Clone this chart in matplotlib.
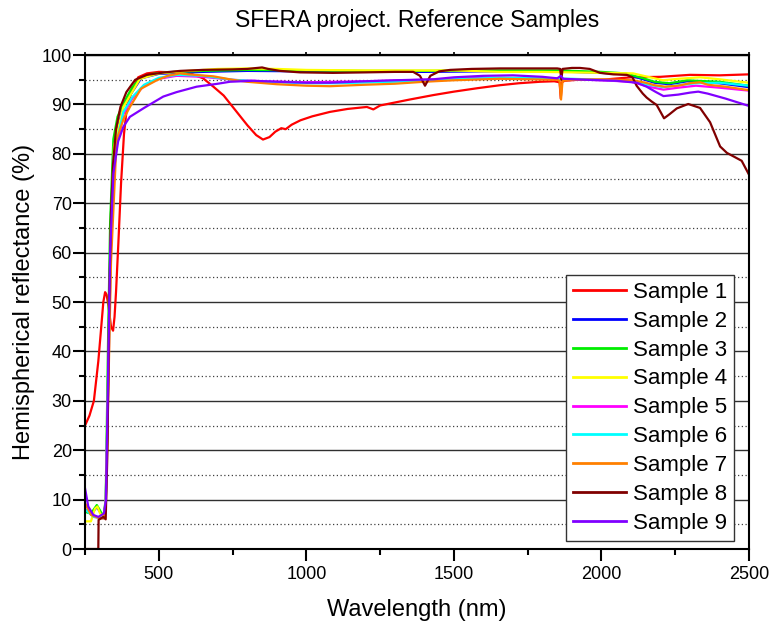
import matplotlib
matplotlib.use("Agg")
import matplotlib.pyplot as plt
from matplotlib.ticker import MultipleLocator

plt.rcParams['font.family'] = ['Liberation Sans', 'DejaVu Sans']

# Sample 1 (red)
wl_1 = [250, 265, 280, 295, 305, 312, 318, 323, 330, 338, 345, 350, 355, 363, 372, 382, 392, 410, 430, 460,
        500, 560, 610, 650, 685, 720, 760, 800, 830, 853, 875, 895, 915, 930, 950, 980, 1020, 1080, 1140, 1205,
        1227, 1250, 1300, 1350, 1430, 1500, 1580, 1656, 1720, 1792, 1840, 1858, 1862, 1866, 1875, 1920, 2000,
        2100, 2200, 2250, 2300, 2400, 2500]
r_1 = [25, 27, 30, 38, 45, 50, 52, 51.5, 49, 45, 44.2, 47, 52, 62, 74, 84, 89.5, 93, 95.5, 96.3,
       96.6, 96.5, 96.2, 95.3, 93.6, 91.8, 88.8, 85.8, 83.8, 82.9, 83.4, 84.5, 85.2, 85.0, 85.9, 86.8, 87.6, 88.5,
       89.1, 89.5, 89.0, 89.8, 90.4, 91.0, 91.9, 92.6, 93.3, 93.9, 94.3, 94.6, 94.7, 94.5, 91.2, 94.5, 94.8,
       95.0, 95.0, 95.5, 95.6, 95.8, 96.0, 95.9, 96.1]

# Sample 2 (blue)
wl_2 = [250, 270, 290, 301, 312, 320, 330, 337, 348, 380, 440, 500, 650, 800, 1000, 1200, 1400, 1600, 1800,
        1900, 2000, 2080, 2130, 2180, 2230, 2290, 2320, 2400, 2500]
r_2 = [8, 7, 8.5, 7.5, 6.5, 9, 40, 64, 82, 89.8, 95.3, 96.2, 96.6, 96.8, 96.7, 96.6, 96.6, 96.7, 96.7,
       96.6, 96.4, 96.1, 95.3, 94.4, 94.1, 94.7, 94.6, 94.3, 93.5]

# Sample 3 (green)
wl_3 = [250, 270, 290, 301, 312, 320, 328, 335, 346, 360, 380, 410, 436, 480, 550, 650, 800, 1000, 1200,
        1400, 1600, 1800, 1860, 1900, 2000, 2080, 2130, 2180, 2230, 2290, 2320, 2400, 2500]
r_3 = [7.5, 7.2, 8.9, 7.8, 6.5, 10, 42, 66, 83, 87.5, 90.2, 93.5, 95.2, 96.2, 96.6, 96.8, 97.0, 96.9, 96.8,
       96.8, 96.9, 96.9, 96.9, 96.8, 96.6, 96.3, 95.5, 94.6, 94.3, 94.9, 94.8, 94.6, 93.8]

# Sample 4 (yellow)
wl_4 = [250, 270, 284, 292, 301, 312, 320, 330, 337, 348, 380, 436, 500, 600, 700, 800, 900, 1000, 1200,
        1500, 1656, 1800, 1900, 2000, 2107, 2150, 2209, 2260, 2334, 2400, 2500]
r_4 = [5.6, 5.6, 8.2, 8.6, 7.2, 6.5, 9, 40, 63, 81.5, 89.5, 95.2, 96.3, 96.8, 97.2, 97.3, 97.2, 97.0, 96.9,
       96.9, 96.6, 96.6, 96.5, 96.4, 96.3, 95.7, 94.9, 95.2, 95.5, 95.1, 94.4]

# Sample 5 (magenta)
wl_5 = [250, 280, 312, 320, 330, 337, 348, 380, 410, 450, 500, 560, 650, 750, 850, 1000, 1200, 1400, 1600,
        1800, 1900, 2000, 2100, 2160, 2210, 2260, 2320, 2400, 2500]
r_5 = [9, 6.5, 6.2, 9, 37, 60, 79, 88, 91.2, 93.8, 95.2, 95.8, 95.6, 95.0, 94.7, 94.5, 94.7, 95.0, 95.4,
       95.3, 95.1, 94.9, 94.6, 93.6, 93.0, 93.4, 93.8, 93.4, 92.8]

# Sample 6 (cyan)
wl_6 = [250, 280, 312, 320, 330, 337, 348, 380, 410, 450, 500, 560, 650, 750, 850, 1000, 1100, 1300, 1500,
        1656, 1800, 1900, 2000, 2100, 2160, 2210, 2260, 2320, 2400, 2500]
r_6 = [8, 6.5, 6.2, 9, 38, 60, 80, 88.5, 91.5, 94.0, 95.4, 96.0, 95.8, 95.0, 94.6, 94.3, 94.3, 94.6, 95.1,
       95.4, 95.3, 95.2, 95.0, 94.8, 94.0, 93.5, 93.9, 94.3, 94.4, 93.8]

# Sample 7 (orange)
wl_7 = [250, 270, 301, 312, 320, 330, 338, 357, 380, 402, 440, 493, 530, 572, 600, 685, 750, 798, 900, 1000,
        1080, 1200, 1300, 1400, 1500, 1600, 1656, 1750, 1850, 1858, 1863, 1868, 1900, 2000, 2107, 2150, 2180,
        2215, 2260, 2300, 2334, 2360, 2420, 2500]
r_7 = [9.3, 6.9, 6.2, 6.2, 8, 35, 58, 82.8, 87, 89.5, 93.2, 94.9, 95.8, 96.3, 96.1, 95.7, 95.0, 94.6, 94.1, 93.8,
       93.7, 94.0, 94.2, 94.6, 94.9, 95.1, 95.2, 95.1, 95.0, 94.8, 91.0, 94.8, 95.0, 95.1, 94.9, 94.4, 93.9,
       93.6, 93.8, 94.3, 94.5, 94.0, 93.6, 92.9]

# Sample 8 (dark red)
wl_8 = [250, 295, 296, 312, 320, 326, 332, 338, 345, 355, 370, 390, 420, 460, 520, 572, 650, 750, 800, 850,
        870, 911, 979, 1090, 1200, 1300, 1362, 1385, 1402, 1420, 1450, 1487, 1560, 1656, 1750, 1850, 1860, 1864,
        1868, 1900, 1927, 1960, 1995, 2040, 2086, 2105, 2119, 2140, 2153, 2170, 2187, 2200, 2212, 2230, 2255,
        2294, 2334, 2368, 2402, 2425, 2447, 2475, 2498]
r_8 = [0, 0, 5.9, 6.5, 6, 20, 50, 68, 78, 85, 89.5, 92.5, 95, 96, 96.5, 96.8, 97, 97.1, 97.2, 97.5,
       97.2, 96.8, 96.5, 96.4, 96.5, 96.6, 96.6, 95.8, 93.8, 95.8, 96.7, 97.0, 97.2, 97.3, 97.3, 97.3, 97.2, 95.0,
       97.2, 97.4, 97.4, 97.2, 96.4, 96.1, 96.0, 95.5, 93.8, 92.2, 91.4, 90.6, 89.9, 88.5, 87.2, 88.0, 89.2,
       90.1, 89.3, 86.4, 81.5, 80.2, 79.5, 78.6, 76.0]

# Sample 9 (violet)
wl_9 = [250, 261, 278, 295, 306, 314, 321, 328, 335, 346, 362, 380, 402, 450, 515, 560, 628, 700, 741, 820,
        900, 1000, 1080, 1200, 1300, 1430, 1500, 1600, 1700, 1800, 1850, 1863, 1870, 1950, 2050, 2120, 2153,
        2185, 2210, 2260, 2300, 2328, 2360, 2420, 2500]
r_9 = [12.3, 8.6, 6.9, 6.5, 6.9, 7.2, 10, 35, 60, 76, 82.5, 85.5, 87.5, 89.3, 91.6, 92.5, 93.6, 94.2, 94.6, 94.8,
       94.6, 94.4, 94.4, 94.7, 94.9, 95.1, 95.5, 95.8, 95.9, 95.6, 95.3, 95.8, 95.2, 95.0, 94.8, 94.4, 93.6,
       92.5, 91.7, 92.0, 92.4, 92.6, 92.2, 91.2, 89.7]

samples = ['Sample 1', 'Sample 2', 'Sample 3', 'Sample 4', 'Sample 5',
           'Sample 6', 'Sample 7', 'Sample 8', 'Sample 9']
colors = ['#ff0000', '#0000ff', '#00ee00', '#ffff00', '#ff00ff',
          '#00ffff', '#ff8000', '#800000', '#8000ff']
wls = [wl_1, wl_2, wl_3, wl_4, wl_5, wl_6, wl_7, wl_8, wl_9]
refl = [r_1, r_2, r_3, r_4, r_5, r_6, r_7, r_8, r_9]

fig = plt.figure(figsize=(7.73, 6.26), dpi=100)
ax = fig.add_axes([0.110, 0.123, 0.859, 0.789])

for w, r, c, name in zip(wls, refl, colors, samples):
    ax.plot(w, r, color=c, lw=1.6, label=name)

ax.set_xlim(250, 2500)
ax.set_ylim(0, 100)
ax.xaxis.set_major_locator(MultipleLocator(500))
ax.xaxis.set_minor_locator(MultipleLocator(250))
ax.yaxis.set_major_locator(MultipleLocator(10))
ax.yaxis.set_minor_locator(MultipleLocator(5))

ax.yaxis.grid(True, which='major', color='#303030', lw=1.0)
ax.yaxis.grid(True, which='minor', color='#404040', lw=0.9, linestyle=(0, (1, 2)))
ax.set_axisbelow(True)

for s in ax.spines.values():
    s.set_linewidth(1.5)

ax.tick_params(axis='both', which='major', direction='out', length=8.5, width=1.5, labelsize=13)
ax.tick_params(axis='both', which='minor', direction='out', length=4.3, width=1.5)
ax.tick_params(axis='x', which='both', pad=4)
ax.tick_params(axis='y', which='both', pad=1)

# small ticks along the top edge
top = ax.secondary_xaxis('top')
top.xaxis.set_major_locator(MultipleLocator(500))
top.xaxis.set_minor_locator(MultipleLocator(250))
top.tick_params(which='both', direction='out', length=2.5, width=1.2, labeltop=False)
top.spines['top'].set_linewidth(1.5)

ax.set_title('SFERA project. Reference Samples', fontsize=16.5, pad=20)
ax.set_xlabel('Wavelength (nm)', fontsize=17, labelpad=11)
ax.set_ylabel('Hemispherical reflectance (%)', fontsize=17, labelpad=5)

leg = ax.legend(loc='upper right', bbox_to_anchor=(0.977, 0.5547), borderaxespad=0,
                fontsize=16, handlelength=2.4, handletextpad=0.3, labelspacing=0.356,
                borderpad=0.3, fancybox=False, framealpha=1, edgecolor='#333333')
leg.get_frame().set_linewidth(1.0)
for line in leg.get_lines():
    line.set_linewidth(2)

fig.savefig('out.png', dpi=100)
